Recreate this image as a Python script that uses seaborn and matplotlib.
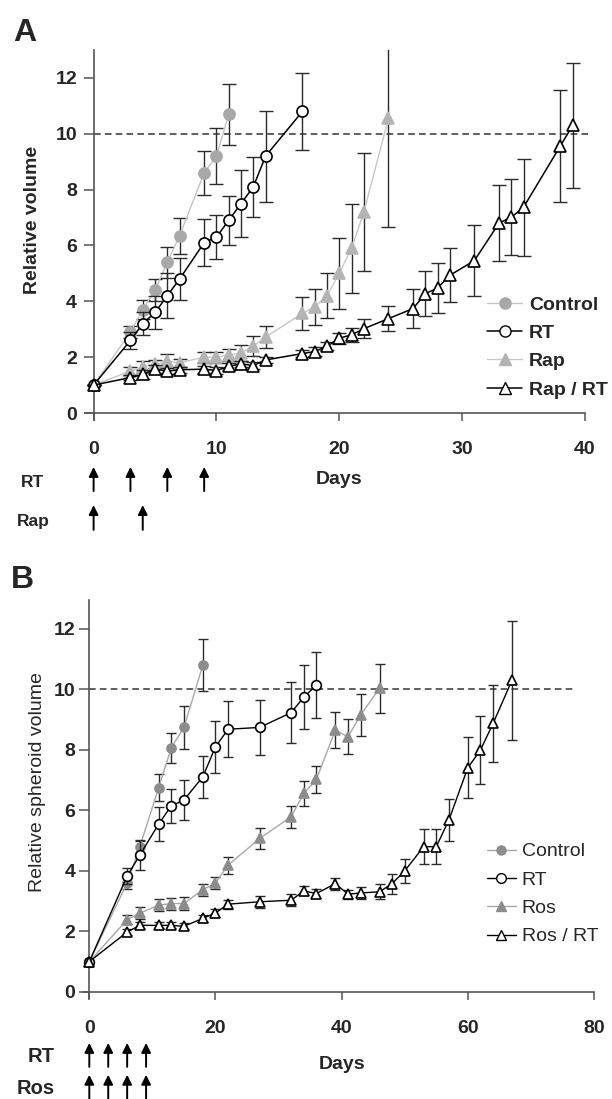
import matplotlib
matplotlib.use("Agg")
import matplotlib.pyplot as plt
from matplotlib.lines import Line2D
import seaborn as sns
import pandas as pd

sns.set_theme(style="ticks")
plt.rcParams['font.family'] = ['Liberation Sans', 'DejaVu Sans']

# ---------------- Panel A data ----------------
a_ctrl_days = [0, 3, 4, 5, 6, 7, 9, 10, 11]
a_ctrl_vals = [1.0, 2.9, 3.7, 4.4, 5.4, 6.35, 8.6, 9.2, 10.7]
a_ctrl_err = [0, 0.2, 0.35, 0.4, 0.55, 0.65, 0.8, 1.0, 1.1]

a_rt_days = [0, 3, 4, 5, 6, 7, 9, 10, 11, 12, 13, 14, 17]
a_rt_vals = [1.0, 2.6, 3.2, 3.6, 4.2, 4.8, 6.1, 6.3, 6.9, 7.5, 8.1, 9.2, 10.8]
a_rt_err = [0, 0.3, 0.4, 0.6, 0.8, 0.75, 0.85, 0.78, 0.88, 1.2, 1.07, 1.63, 1.37]

a_rap_days = [0, 3, 4, 5, 6, 7, 9, 10, 11, 12, 13, 14, 17, 18, 19, 20, 21, 22, 24]
a_rap_vals = [1.0, 1.5, 1.65, 1.75, 1.85, 1.8, 2.0, 2.0, 2.08, 2.15, 2.4, 2.72,
              3.57, 3.8, 4.2, 5.0, 5.9, 7.2, 10.55]
a_rap_err = [0, 0.15, 0.2, 0.15, 0.25, 0.15, 0.2, 0.2, 0.2, 0.3, 0.35, 0.38,
             0.6, 0.64, 0.8, 1.26, 1.6, 2.1, 3.9]

a_raprt_days = [0, 3, 4, 5, 6, 7, 9, 10, 11, 12, 13, 14, 17, 18, 19, 20, 21, 22,
                24, 26, 27, 28, 29, 31, 33, 34, 35, 38, 39]
a_raprt_vals = [1.0, 1.27, 1.38, 1.57, 1.5, 1.55, 1.57, 1.52, 1.67, 1.76, 1.7, 1.9,
                2.13, 2.2, 2.39, 2.68, 2.8, 3.02, 3.38, 3.74, 4.27, 4.48, 4.93,
                5.46, 6.8, 7.01, 7.37, 9.57, 10.3]
a_raprt_err = [0, 0.1, 0.15, 0.15, 0.1, 0.1, 0.12, 0.12, 0.12, 0.12, 0.12, 0.12,
               0.12, 0.15, 0.15, 0.2, 0.25, 0.35, 0.45, 0.7, 0.8, 0.9, 0.97,
               1.28, 1.35, 1.36, 1.74, 2.0, 2.23]

a_labels = ["Control", "RT", "Rap", "Rap / RT"]
a_rt_arrow_days = [0, 3, 6, 9]
a_rap_arrow_days = [0, 4]

# ---------------- Panel B data ----------------
b_ctrl_days = [0, 6, 8, 11, 13, 15, 18]
b_ctrl_vals = [1.0, 3.6, 4.8, 6.75, 8.07, 8.74, 10.8]
b_ctrl_err = [0, 0.2, 0.2, 0.45, 0.5, 0.72, 0.85]

b_rt_days = [0, 6, 8, 11, 13, 15, 18, 20, 22, 27, 32, 34, 36]
b_rt_vals = [1.0, 3.83, 4.52, 5.55, 6.15, 6.34, 7.11, 8.1, 8.68, 8.74, 9.23, 9.74, 10.14]
b_rt_err = [0, 0.25, 0.5, 0.55, 0.57, 0.65, 0.7, 0.85, 0.92, 0.92, 1.0, 1.06, 1.08]

b_ros_days = [0, 6, 8, 11, 13, 15, 18, 20, 22, 27, 32, 34, 36, 39, 41, 43, 46]
b_ros_vals = [1.0, 2.39, 2.6, 2.87, 2.92, 2.92, 3.38, 3.6, 4.19, 5.07, 5.79, 6.56,
              7.02, 8.65, 8.43, 9.15, 10.03]
b_ros_err = [0, 0.15, 0.2, 0.2, 0.2, 0.22, 0.2, 0.2, 0.28, 0.35, 0.37, 0.4, 0.46,
             0.6, 0.58, 0.7, 0.8]

b_rosrt_days = [0, 6, 8, 11, 13, 15, 18, 20, 22, 27, 32, 34, 36, 39, 41, 43, 46,
                48, 50, 53, 55, 57, 60, 62, 64, 67]
b_rosrt_vals = [1.0, 1.98, 2.2, 2.2, 2.2, 2.17, 2.43, 2.61, 2.9, 2.98, 3.03, 3.34,
                3.25, 3.58, 3.23, 3.27, 3.31, 3.58, 4.0, 4.8, 4.8, 5.68, 7.41,
                7.99, 8.87, 10.3]
b_rosrt_err = [0, 0.1, 0.1, 0.1, 0.1, 0.1, 0.12, 0.12, 0.15, 0.2, 0.2, 0.15, 0.15,
               0.2, 0.15, 0.2, 0.25, 0.33, 0.4, 0.58, 0.58, 0.69, 1.0, 1.13,
               1.27, 1.97]

b_labels = ["Control", "RT", "Ros", "Ros / RT"]
b_rt_arrow_days = [0, 3, 6, 9]
b_ros_arrow_days = [0, 3, 6, 9]

W, H = 612, 1099
fig = plt.figure(figsize=(W / 100, H / 100), dpi=100)

axA = fig.add_axes([85 / W, 1 - 420 / H, 500 / W, 370 / H])
axB = fig.add_axes([83 / W, 1 - 998 / H, 511 / W, 398 / H])

SPINE = "#555555"
ERRC = "#2a2a2a"


def draw_series(ax, days, vals, err, marker, face, line_color, ms, lw, capsize, z):
    df = pd.DataFrame({"day": days, "val": vals})
    ax.errorbar(days, vals, yerr=err, fmt="none", ecolor=ERRC, elinewidth=1.0,
                capsize=capsize, capthick=1.0, zorder=z)
    sns.lineplot(data=df, x="day", y="val", ax=ax, color=line_color, lw=lw,
                 marker=marker, markersize=ms, markerfacecolor=face,
                 markeredgecolor=(line_color if face == "white" else face),
                 markeredgewidth=1.2, errorbar=None, zorder=z + 0.5)


def style_axis(ax, xmin, xmax, ymin, ymax, xticks, xpad, ypad, size):
    ax.set_xlim(xmin, xmax)
    ax.set_ylim(ymin, ymax)
    ax.spines["left"].set_position(("data", 0))
    ax.spines["bottom"].set_position(("data", 0))
    for s in ["top", "right"]:
        ax.spines[s].set_visible(False)
    for s in ["left", "bottom"]:
        ax.spines[s].set_color(SPINE)
        ax.spines[s].set_linewidth(1.2)
    ax.set_xticks(xticks)
    ax.set_yticks(range(0, 13, 2))
    ax.tick_params(axis="x", direction="out", length=6, width=1.1, color=SPINE,
                   pad=xpad, labelsize=size)
    ax.tick_params(axis="y", direction="out", length=7, width=1.1, color=SPINE,
                   pad=ypad, labelsize=size)
    for lab in ax.get_xticklabels() + ax.get_yticklabels():
        lab.set_fontweight("bold")


# ---------------- Panel A ----------------
axA.plot([0, 40.5], [10, 10], ls=(0, (4, 2.5)), color="#444444", lw=1.2,
         clip_on=False, zorder=1)
draw_series(axA, a_ctrl_days, a_ctrl_vals, a_ctrl_err, "o", "#a8a8a8", "#c4c4c4",
            8, 1.0, 5, 2)
draw_series(axA, a_rap_days, a_rap_vals, a_rap_err, "^", "#b4b4b4", "#c8c8c8",
            8, 1.0, 5, 2)
draw_series(axA, a_rt_days, a_rt_vals, a_rt_err, "o", "white", "black",
            8, 1.1, 5, 4)
draw_series(axA, a_raprt_days, a_raprt_vals, a_raprt_err, "^", "white", "black",
            8.5, 1.1, 5, 4)
style_axis(axA, -0.7, 40, -0.25, 13, [0, 10, 20, 30, 40], 14, 5, 14)
axA.set_xlabel("Days", fontsize=14, fontweight="bold", va="center")
axA.xaxis.set_label_coords(0.508, -0.162)
axA.set_ylabel("Relative volume", fontsize=14, fontweight="bold", va="center")
axA.yaxis.set_label_coords(-0.104, 0.54)

hA = [
    Line2D([], [], color="#c4c4c4", marker="o", markersize=8, markerfacecolor="#a8a8a8",
           markeredgecolor="#a8a8a8", lw=1.0),
    Line2D([], [], color="black", marker="o", markersize=8, markerfacecolor="white",
           markeredgecolor="black", lw=1.1),
    Line2D([], [], color="#c8c8c8", marker="^", markersize=8, markerfacecolor="#b4b4b4",
           markeredgecolor="#b4b4b4", lw=1.0),
    Line2D([], [], color="black", marker="^", markersize=8.5, markerfacecolor="white",
           markeredgecolor="black", lw=1.1),
]
axA.legend(hA, a_labels, loc="upper left", bbox_to_anchor=(0.804, 0.335),
           frameon=False, borderpad=0, borderaxespad=0, handlelength=1.8,
           handletextpad=0.35, labelspacing=0.55,
           prop={"family": "Liberation Sans", "weight": "bold", "size": 14})

trA = axA.get_xaxis_transform()
for d in a_rt_arrow_days:
    axA.annotate("", xy=(d, -0.127), xytext=(d, -0.192), xycoords=trA, textcoords=trA,
                 annotation_clip=False,
                 arrowprops=dict(arrowstyle="-|>", color="black", lw=1.4,
                                 mutation_scale=14, shrinkA=0, shrinkB=0))
for d in a_rap_arrow_days:
    axA.annotate("", xy=(d, -0.23), xytext=(d, -0.297), xycoords=trA, textcoords=trA,
                 annotation_clip=False,
                 arrowprops=dict(arrowstyle="-|>", color="black", lw=1.4,
                                 mutation_scale=14, shrinkA=0, shrinkB=0))
fig.text(33 / W, 1 - 482 / H, "RT", ha="center", va="center", fontsize=12.5,
         fontweight="bold")
fig.text(33 / W, 1 - 522 / H, "Rap", ha="center", va="center", fontsize=12.5,
         fontweight="bold")
fig.text(13 / W, 1 - 33 / H, "A", ha="left", va="center", fontsize=23,
         fontweight="bold")

# ---------------- Panel B ----------------
axB.plot([0, 77], [10, 10], ls=(0, (4, 2.5)), color="#444444", lw=1.2,
         clip_on=False, zorder=1)
draw_series(axB, b_ctrl_days, b_ctrl_vals, b_ctrl_err, "o", "#8c8c8c", "#a8a8a8",
            6.5, 1.0, 3.5, 2)
draw_series(axB, b_ros_days, b_ros_vals, b_ros_err, "^", "#8c8c8c", "#a8a8a8",
            7, 1.0, 3.5, 2)
draw_series(axB, b_rt_days, b_rt_vals, b_rt_err, "o", "white", "black",
            7, 1.0, 3.5, 4)
draw_series(axB, b_rosrt_days, b_rosrt_vals, b_rosrt_err, "^", "white", "black",
            7, 1.0, 3.5, 4)
style_axis(axB, -1.0, 80, -0.2, 12.95, [0, 20, 40, 60, 80], 14, 3, 14)
axB.set_xlabel("Days", fontsize=14, fontweight="bold", va="center")
axB.xaxis.set_label_coords(0.507, -0.168)
axB.set_ylabel("Relative spheroid volume", fontsize=14, va="center")
axB.yaxis.set_label_coords(-0.09, 0.543)

hB = [
    Line2D([], [], color="#a8a8a8", marker="o", markersize=6.5, markerfacecolor="#8c8c8c",
           markeredgecolor="#8c8c8c", lw=1.0),
    Line2D([], [], color="black", marker="o", markersize=7, markerfacecolor="white",
           markeredgecolor="black", lw=1.0),
    Line2D([], [], color="#a8a8a8", marker="^", markersize=7, markerfacecolor="#8c8c8c",
           markeredgecolor="#8c8c8c", lw=1.0),
    Line2D([], [], color="black", marker="^", markersize=7, markerfacecolor="white",
           markeredgecolor="black", lw=1.0),
]
axB.legend(hB, b_labels, loc="upper left", bbox_to_anchor=(0.79, 0.39),
           frameon=False, borderpad=0, borderaxespad=0, handlelength=1.5,
           handletextpad=0.3, labelspacing=0.55,
           prop={"family": "Liberation Sans", "size": 14})

trB = axB.get_xaxis_transform()
for d in b_rt_arrow_days:
    axB.annotate("", xy=(d, -0.113), xytext=(d, -0.173), xycoords=trB, textcoords=trB,
                 annotation_clip=False,
                 arrowprops=dict(arrowstyle="-|>", color="black", lw=1.4,
                                 mutation_scale=14, shrinkA=0, shrinkB=0))
for d in b_ros_arrow_days:
    axB.annotate("", xy=(d, -0.193), xytext=(d, -0.254), xycoords=trB, textcoords=trB,
                 annotation_clip=False,
                 arrowprops=dict(arrowstyle="-|>", color="black", lw=1.4,
                                 mutation_scale=14, shrinkA=0, shrinkB=0))
fig.text(41 / W, 1 - 1057 / H, "RT", ha="center", va="center", fontsize=14.5,
         fontweight="bold")
fig.text(36 / W, 1 - 1088 / H, "Ros", ha="center", va="center", fontsize=14.5,
         fontweight="bold")
fig.text(11 / W, 1 - 580 / H, "B", ha="left", va="center", fontsize=23,
         fontweight="bold")

fig.savefig("out.png", dpi=100)
